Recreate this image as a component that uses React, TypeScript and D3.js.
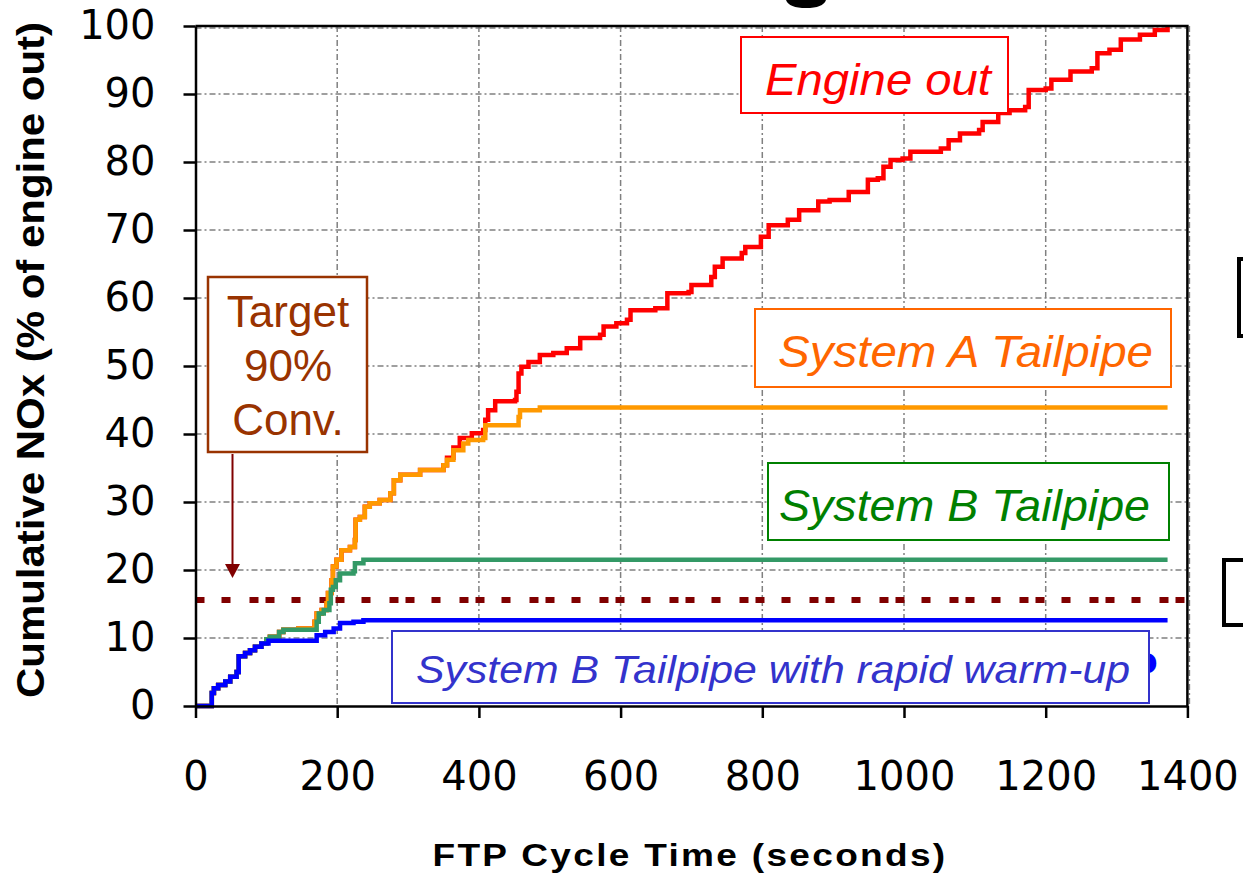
import React, { useRef, useEffect } from 'react';
import * as d3 from 'd3';

// axis ticks
const timeTicks = [0, 200, 400, 600, 800, 1000, 1200, 1400];
const noxTicks = [0, 10, 20, 30, 40, 50, 60, 70, 80, 90, 100];
const targetLevel = 15.6;

// shared early part (all curves overlap until ~93 s)
const startPart: [number, number][] = [
  [0, 0], [23, 1.9], [26, 2.6], [32, 3.1], [42, 3.6], [49, 4.3], [58, 5.0],
  [61, 7.3], [70, 7.8], [77, 8.2], [84, 8.7], [93, 9.2],
];

// System B tailpipe with rapid warm-up (blue)
const warmUpTail: [number, number][] = [
  [103, 9.6], [171, 10.4], [183, 10.9], [195, 11.4], [204, 12.2], [223, 12.4], [237, 12.6], [1372, 12.6],
];

// System B tailpipe (green)
const systemBTail: [number, number][] = [
  [100, 9.8], [105, 10.2], [118, 10.9], [124, 11.2], [171, 12.4], [174, 13.6], [181, 14.1],
  [189, 15.1], [191, 17.1], [194, 17.5], [198, 18.5], [204, 19.5], [223, 19.8], [225, 21.0],
  [237, 21.5], [1372, 21.5],
];

// System A tailpipe (orange)
const systemATail: [number, number][] = [
  [100, 9.8], [105, 10.2], [118, 10.9], [124, 11.2], [145, 11.4], [168, 12.4], [171, 13.6],
  [178, 14.1], [185, 15.1], [187, 16.6], [192, 18.5], [194, 20.5], [199, 21.5], [206, 22.9],
  [218, 23.4], [225, 24.4], [226, 27.4], [232, 27.8], [239, 29.3], [246, 29.8], [260, 30.3],
  [275, 31.3], [280, 33.2], [289, 34.0], [317, 34.7], [350, 35.4], [355, 36.2], [364, 37.6],
  [378, 38.6], [385, 39.1], [406, 39.4], [409, 41.3], [456, 42.5], [458, 43.5], [486, 43.9],
  [1372, 43.9],
];

// Engine out (red), after it leaves the System A curve
const engineTail: [number, number][] = [
  [355, 36.5], [364, 38.0], [373, 39.4], [390, 40.1], [406, 40.6], [409, 42.1], [413, 43.5],
  [423, 44.8], [451, 45.0], [453, 46.2], [456, 48.9], [460, 49.9], [470, 50.6], [486, 51.6],
  [505, 51.9], [524, 52.6], [543, 54.1], [571, 54.6], [576, 55.8], [594, 56.3], [609, 56.8],
  [614, 58.2], [649, 58.5], [666, 60.7], [696, 60.9], [700, 61.9], [728, 63.1], [733, 64.6],
  [744, 65.8], [771, 66.6], [776, 67.5], [798, 69.0], [809, 70.7], [836, 71.5], [852, 72.9],
  [879, 74.2], [895, 74.4], [922, 75.6], [949, 77.4], [963, 77.6], [971, 79.3], [981, 80.3],
  [998, 80.5], [1009, 81.5], [1036, 81.5], [1052, 82.0], [1063, 83.2], [1079, 84.2],
  [1106, 84.7], [1111, 85.9], [1133, 87.2], [1149, 87.6], [1171, 88.1], [1176, 90.6],
  [1200, 90.8], [1208, 92.1], [1235, 93.3], [1265, 93.8], [1273, 96.0], [1290, 96.5],
  [1306, 98.0], [1333, 98.7], [1354, 99.4], [1372, 100],
];

const engineOut = startPart.concat(systemATail.filter((d) => d[0] < 355), engineTail);
const systemA = startPart.concat(systemATail);
const systemB = startPart.concat(systemBTail);
const systemBWarm = startPart.concat(warmUpTail);

const GRID = '#808080';
const MAROON = '#800000';

function App() {
  const svgRef = useRef<SVGSVGElement>(null);

  useEffect(() => {
    const svg = d3.select(svgRef.current);
    svg.selectAll('*').remove();

    const x = d3.scaleLinear().domain([0, 1400]).range([195.5, 1187.4]);
    const y = d3.scaleLinear().domain([0, 100]).range([706, 26]);

    // bottom of the cropped slide title
    svg.append('path')
      .attr('d', 'M786,0 Q789,8 806,8 Q823,8 826,0 Z')
      .attr('fill', '#000');

    // grid
    const grid = svg.append('g');
    grid.selectAll('.hgrid')
      .data(noxTicks.filter((d) => d > 0))
      .join('line')
      .attr('x1', x(0)).attr('x2', x(1400))
      .attr('y1', (d) => y(d) + (d === 100 ? 2 : 0)).attr('y2', (d) => y(d) + (d === 100 ? 2 : 0))
      .attr('stroke', GRID).attr('stroke-width', 1.5).attr('stroke-dasharray', '6 3 2 3');
    grid.selectAll('.vgrid')
      .data(timeTicks.filter((d) => d > 0))
      .join('line')
      .attr('x1', (d) => x(d) + (d === 1400 ? 2 : 0)).attr('x2', (d) => x(d) + (d === 1400 ? 2 : 0))
      .attr('y1', y(100)).attr('y2', y(0))
      .attr('stroke', GRID).attr('stroke-width', 1.5).attr('stroke-dasharray', '6 3 2 3');

    // target line
    svg.append('line')
      .attr('x1', x(0)).attr('x2', x(1400))
      .attr('y1', y(targetLevel)).attr('y2', y(targetLevel))
      .attr('stroke', MAROON).attr('stroke-width', 6)
      .attr('stroke-dasharray', '9 17 9 19 9 7');

    // series
    const line = d3.line<[number, number]>()
      .x((d) => x(d[0]))
      .y((d) => y(d[1]))
      .curve(d3.curveStepAfter);

    const series = [
      { data: engineOut, color: '#FF0000' },
      { data: systemA, color: '#FF9900' },
      { data: systemB, color: '#339966' },
      { data: systemBWarm, color: '#0000FF' },
    ];
    svg.selectAll('.series')
      .data(series)
      .join('path')
      .attr('class', 'series')
      .attr('d', (s) => line(s.data))
      .attr('fill', 'none')
      .attr('stroke', (s) => s.color)
      .attr('stroke-width', 4.5);

    // axes
    const yAxis = d3.axisLeft(y).tickValues(noxTicks).tickSize(12).tickSizeOuter(0).tickPadding(28);
    const gy = svg.append('g').attr('transform', `translate(${x(0)},0)`).call(yAxis);
    const xAxis = d3.axisBottom(x).tickValues(timeTicks).tickFormat(d3.format('d'))
      .tickSize(12).tickSizeOuter(0).tickPadding(44);
    const gx = svg.append('g').attr('transform', `translate(0,${y(0)})`).call(xAxis);
    [gx, gy].forEach((g) => {
      g.select('.domain').attr('stroke', '#000').attr('stroke-width', 2.5);
      g.selectAll('.tick line').attr('stroke', '#000').attr('stroke-width', 2.5);
      g.selectAll('.tick text')
        .attr('fill', '#000')
        .style('font-family', 'DejaVu Sans, Verdana, sans-serif')
        .style('font-size', '40px');
    });

    // frame top and right
    svg.append('path')
      .attr('d', `M${x(0)},${y(100)}H${x(1400)}V${y(0)}`)
      .attr('fill', 'none').attr('stroke', '#000').attr('stroke-width', 2.5);

    // axis titles
    svg.append('text')
      .attr('transform', 'translate(44,360) rotate(-90)')
      .attr('text-anchor', 'middle')
      .attr('textLength', 676).attr('lengthAdjust', 'spacingAndGlyphs')
      .style('font-family', 'Liberation Sans, Arial, sans-serif')
      .style('font-weight', 'bold').style('font-size', '38px')
      .text('Cumulative NOx (% of engine out)');
    svg.append('text')
      .attr('x', 690).attr('y', 866)
      .attr('text-anchor', 'middle')
      .attr('textLength', 515).attr('lengthAdjust', 'spacingAndGlyphs')
      .style('font-family', 'Liberation Sans, Arial, sans-serif')
      .style('font-weight', 'bold').style('font-size', '32px')
      .style('letter-spacing', '2px')
      .text('FTP Cycle Time (seconds)');

    // partly hidden glyph behind the warm-up label
    svg.append('text')
      .attr('x', 1133).attr('y', 673)
      .attr('fill', '#0000FF')
      .style('font-family', 'DejaVu Sans, sans-serif')
      .style('font-weight', 'bold').style('font-size', '36px')
      .text('o');

    // labels in boxes
    const labels = [
      { text: 'Engine out', color: '#FF0000', box: [741, 37, 267, 76], tx: 765, ty: 95, tw: 226, fs: 44 },
      { text: 'System A Tailpipe', color: '#FF6600', box: [755, 309, 416, 78], tx: 778, ty: 367, tw: 375, fs: 44 },
      { text: 'System B Tailpipe', color: '#008000', box: [768, 463, 401, 77], tx: 779, ty: 521, tw: 371, fs: 44 },
      { text: 'System B Tailpipe with rapid warm-up', color: '#3333CC', box: [392, 631, 757, 72], tx: 416, ty: 683, tw: 714, fs: 39 },
    ];
    const lg = svg.selectAll('.label').data(labels).join('g').attr('class', 'label');
    lg.append('rect')
      .attr('x', (d) => d.box[0]).attr('y', (d) => d.box[1])
      .attr('width', (d) => d.box[2]).attr('height', (d) => d.box[3])
      .attr('fill', '#fff').attr('stroke', (d) => d.color).attr('stroke-width', 2);
    lg.append('text')
      .attr('x', (d) => d.tx).attr('y', (d) => d.ty)
      .attr('textLength', (d) => d.tw).attr('lengthAdjust', 'spacingAndGlyphs')
      .attr('fill', (d) => d.color)
      .style('font-family', 'Liberation Sans, Arial, sans-serif')
      .style('font-style', 'italic')
      .style('font-size', (d) => `${d.fs}px`)
      .text((d) => d.text);

    // target annotation
    svg.append('rect')
      .attr('x', 208).attr('y', 277).attr('width', 159).attr('height', 175)
      .attr('fill', '#fff').attr('stroke', '#993300').attr('stroke-width', 2.5);
    svg.append('text')
      .attr('text-anchor', 'middle')
      .attr('fill', '#993300')
      .style('font-family', 'Liberation Sans, Arial, sans-serif')
      .style('font-size', '44px')
      .selectAll('tspan')
      .data(['Target', '90%', 'Conv.'])
      .join('tspan')
      .attr('x', 288)
      .attr('y', (d, i) => 327 + i * 54)
      .text((d) => d);
    svg.append('line')
      .attr('x1', 232.5).attr('x2', 232.5).attr('y1', 454).attr('y2', 566)
      .attr('stroke', MAROON).attr('stroke-width', 2);
    svg.append('path')
      .attr('d', 'M225,564L240,564L232.5,578Z')
      .attr('fill', MAROON);

    // cropped shapes at the right edge
    svg.append('rect')
      .attr('x', 1239).attr('y', 259).attr('width', 30).attr('height', 77)
      .attr('fill', 'none').attr('stroke', '#000').attr('stroke-width', 4);
    svg.append('rect')
      .attr('x', 1224).attr('y', 560).attr('width', 40).attr('height', 65)
      .attr('fill', 'none').attr('stroke', '#000').attr('stroke-width', 4);
  }, []);

  return (
    <svg
      ref={svgRef}
      width={1243}
      height={875}
      style={{ position: 'absolute', left: 0, top: 0, background: '#fff' }}
    />
  );
}

export default App;
